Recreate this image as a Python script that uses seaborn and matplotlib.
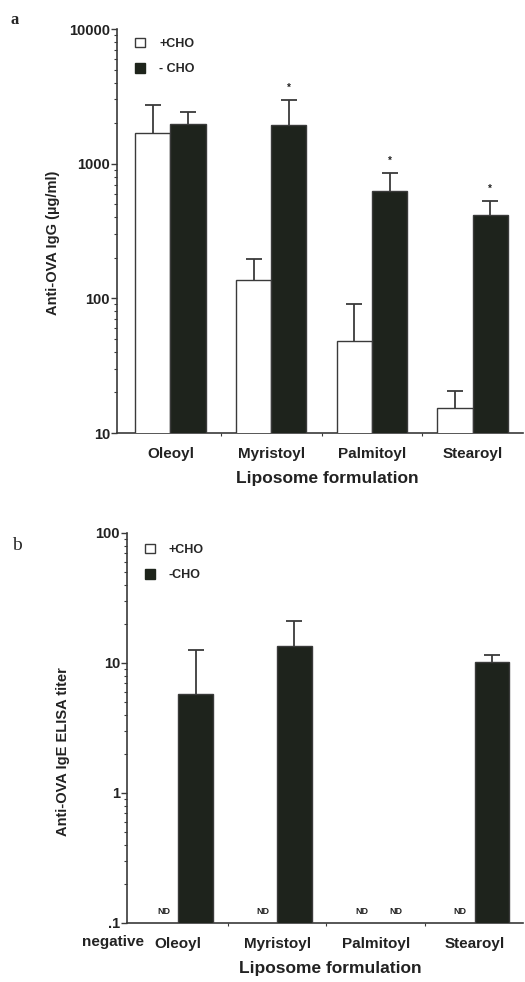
import numpy as np
import pandas as pd
import matplotlib
matplotlib.use("Agg")
import matplotlib.pyplot as plt
from matplotlib.patches import Patch
from matplotlib.ticker import LogLocator, NullFormatter, FixedLocator
import seaborn as sns

# ---- data -------------------------------------------------------------
formulations = ["Oleoyl", "Myristoyl", "Palmitoyl", "Stearoyl"]
treatments = ["+CHO", "-CHO"]

# Anti-OVA IgG (ug/ml): means and upper error limits
igg_plus = [1690, 137, 48, 15.3]
igg_plus_err_top = [2730, 197, 91, 20.6]
igg_minus = [1970, 1950, 631, 416]
igg_minus_err_top = [2430, 2970, 857, 531]
igg_significant = [False, True, True, True]

# Anti-OVA IgE ELISA titer (NaN = not detected)
ige_plus = [np.nan, np.nan, np.nan, np.nan]
ige_plus_err_top = [np.nan, np.nan, np.nan, np.nan]
ige_minus = [5.8, 13.4, np.nan, 10.2]
ige_minus_err_top = [12.7, 20.9, np.nan, 11.5]

igg_ticks = [10, 100, 1000, 10000]
igg_tick_labels = ["10", "100", "1000", "10000"]
ige_ticks = [0.1, 1, 10, 100]
ige_tick_labels = [".1", "1", "10", "100"]

# ---- style ------------------------------------------------------------
sns.set_theme(style="white")
plt.rcParams["font.family"] = ["Liberation Sans", "DejaVu Sans"]
plt.rcParams["font.weight"] = "bold"

DARK = "#1e241b"
LINE = "#3a3a3a"
TEXT = "#222222"
palette = {"+CHO": "white", "-CHO": DARK}
WIDTH = 0.7

fig = plt.figure(figsize=(5.25, 9.82), dpi=100)
ax_a = fig.add_axes([117 / 525, 1 - 433 / 982, 406 / 525, 404 / 982])
ax_b = fig.add_axes([127 / 525, 1 - 923 / 982, 396 / 525, 390 / 982])


def long_table(plus, minus):
    return pd.DataFrame({
        "formulation": formulations * 2,
        "treatment": ["+CHO"] * len(formulations) + ["-CHO"] * len(formulations),
        "value": list(plus) + list(minus),
    })


def draw_panel(ax, plus, plus_top, minus, minus_top, ylim, ticks, tick_labels,
               ylabel, xlim, legend_labels, ylabel_pos, xlabel_pos, legend_y):
    ax.set_yscale("log")
    df = long_table(plus, minus)
    sns.barplot(data=df, x="formulation", y="value", hue="treatment",
                order=formulations, hue_order=treatments, palette=palette,
                width=WIDTH, edgecolor=LINE, linewidth=1.0, errorbar=None,
                legend=False, ax=ax, zorder=3)

    offsets = (np.arange(len(treatments)) - 0.5) * WIDTH / len(treatments)
    centers = {}
    for j, (vals, tops) in enumerate([(plus, plus_top), (minus, minus_top)]):
        x = np.arange(len(formulations)) + offsets[j]
        centers[treatments[j]] = x
        vals = np.asarray(vals, float)
        tops = np.asarray(tops, float)
        ok = ~np.isnan(vals)
        if not ok.any():
            continue
        _, caps, _ = ax.errorbar(x[ok], vals[ok],
                                 yerr=[np.zeros(ok.sum()), tops[ok] - vals[ok]],
                                 fmt="none", ecolor=LINE, elinewidth=1.3,
                                 capsize=6, capthick=1.3, zorder=2)
        # one-sided bars: keep only the upper cap
        caps[0].set_visible(False)

    ax.set_ylim(*ylim)
    ax.set_xlim(*xlim)
    ax.yaxis.set_major_locator(FixedLocator(ticks))
    ax.set_yticklabels(tick_labels)
    ax.yaxis.set_minor_locator(LogLocator(base=10, subs=np.arange(2, 10)))
    ax.yaxis.set_minor_formatter(NullFormatter())
    ax.xaxis.set_minor_locator(FixedLocator([0.5, 1.5, 2.5]))

    for side in ("top", "right"):
        ax.spines[side].set_visible(False)
    for side in ("left", "bottom"):
        ax.spines[side].set_color(LINE)
        ax.spines[side].set_linewidth(1.2)

    ax.tick_params(axis="y", which="major", direction="out", length=4, width=1,
                   color=LINE, pad=1, labelsize=10.5, left=True)
    ax.tick_params(axis="y", which="minor", direction="out", length=2.5,
                   width=0.8, color=LINE, left=True)
    ax.tick_params(axis="x", which="major", length=0, pad=10, labelsize=11)
    ax.tick_params(axis="x", which="minor", direction="out", length=2,
                   width=0.8, color=LINE, bottom=True)
    for lab in ax.get_xticklabels() + ax.get_yticklabels():
        lab.set_fontweight("bold")
        lab.set_color(TEXT)

    ax.set_xlabel("Liposome formulation", fontsize=12.5, fontweight="bold",
                  color=TEXT)
    ax.xaxis.set_label_coords(*xlabel_pos)
    ax.set_ylabel(ylabel, fontsize=10.5, fontweight="bold", color=TEXT)
    ax.yaxis.set_label_coords(*ylabel_pos)

    handles = [Patch(facecolor="white", edgecolor=LINE, linewidth=1.0),
               Patch(facecolor=DARK, edgecolor=DARK, linewidth=1.0)]
    ax.legend(handles, legend_labels, loc="upper left",
              bbox_to_anchor=(0.045, legend_y), frameon=False,
              handlelength=0.8, handleheight=0.8, handletextpad=1.1,
              labelspacing=1.05, borderpad=0, borderaxespad=0,
              prop={"weight": "bold", "size": 9})
    return centers


# ---- panel a: IgG -------------------------------------------------------
centers_a = draw_panel(ax_a, igg_plus, igg_plus_err_top, igg_minus,
                       igg_minus_err_top, (10, 10000), igg_ticks, igg_tick_labels,
                       "Anti-OVA IgG (\u00b5g/ml)", (-0.53, 3.5),
                       ["+CHO", "- CHO"], (-0.14, 0.47), (0.517, -0.094), 0.978)
for i, sig in enumerate(igg_significant):
    if sig:
        ax_a.annotate("*", (centers_a["-CHO"][i], igg_minus_err_top[i]),
                      xytext=(0, 5), textcoords="offset points", ha="center",
                      va="bottom", fontsize=7, color=TEXT)

# ---- panel b: IgE -------------------------------------------------------
centers_b = draw_panel(ax_b, ige_plus, ige_plus_err_top, ige_minus,
                       ige_minus_err_top, (0.1, 100), ige_ticks, ige_tick_labels,
                       "Anti-OVA IgE ELISA titer", (-0.52, 3.49),
                       ["+CHO", "-CHO"], (-0.144, 0.44), (0.513, -0.097), 0.972)
for t, vals in zip(treatments, [ige_plus, ige_minus]):
    for i, v in enumerate(vals):
        if np.isnan(v):
            ax_b.annotate("ND", (centers_b[t][i] + 0.03, 0.1), xytext=(0, 5),
                          textcoords="offset points", ha="center", va="bottom",
                          fontsize=6.5, fontweight="bold", color=TEXT)
ax_b.text(-0.035, -0.048, "negative", transform=ax_b.transAxes, ha="center",
          va="center", fontsize=11, fontweight="bold", color=TEXT)

# ---- panel letters ------------------------------------------------------
fig.text(15 / 525, 1 - 20 / 982, "a", family=["Liberation Serif", "DejaVu Serif"],
         fontsize=12, fontweight="bold", ha="center", va="center")
fig.text(17 / 525, 1 - 546 / 982, "b", family=["Liberation Serif", "DejaVu Serif"],
         fontsize=14, fontweight="normal", ha="center", va="center")

fig.savefig("out.png", dpi=100, facecolor="white")
